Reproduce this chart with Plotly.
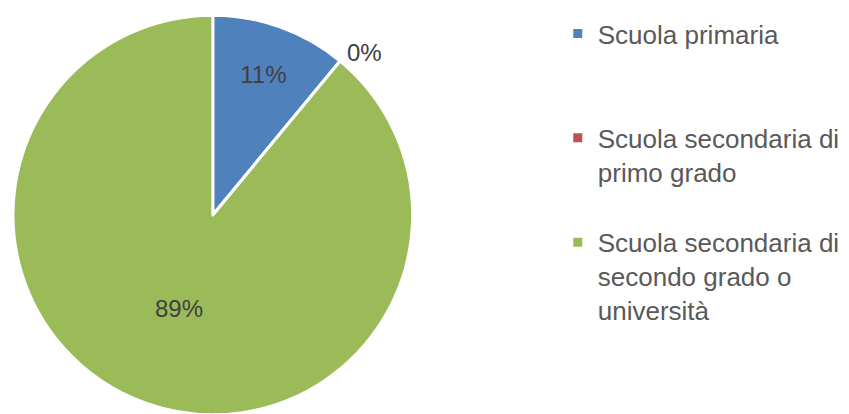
import plotly.graph_objects as go

labels = ["Scuola primaria<br> <br> ",
          "Scuola secondaria di<br>primo grado<br> ",
          "Scuola secondaria di<br>secondo grado o<br>università"]
values = [11, 0, 89]
colors = ["#4F81BD", "#C0504D", "#9BBB59"]
text_positions = ["inside", "outside", "inside"]

W, H = 849, 414

fig = go.Figure(go.Pie(
    labels=labels,
    values=values,
    sort=False,
    direction="clockwise",
    rotation=0,
    marker=dict(colors=colors, line=dict(color="white", width=3)),
    texttemplate="%{percent:.0%}",
    textposition=text_positions,
    insidetextorientation="horizontal",
    textfont=dict(family="Liberation Sans, Arial", size=24, color="#404040"),
    domain=dict(x=[0, 402 / W], y=[0, 1 - 3 / H]),
    hoverinfo="label+percent",
))

fig.update_layout(
    width=W, height=H,
    margin=dict(l=0, r=0, t=0, b=0),
    paper_bgcolor="white",
    plot_bgcolor="white",
    showlegend=True,
    legend=dict(
        x=548 / W, xanchor="left",
        y=1, yanchor="top",
        valign="top",
        font=dict(family="Liberation Sans, Arial", size=26, color="#595959"),
        bgcolor="rgba(0,0,0,0)",
    ),
)

fig.write_html("out.html")
